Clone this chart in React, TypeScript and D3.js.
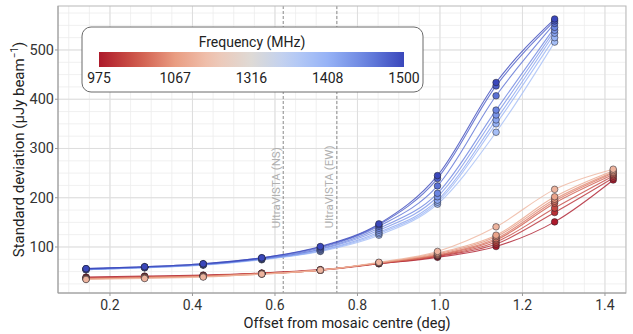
import React from "react";
import * as d3 from "d3";

// ---- data ----
const offsets = [0.142, 0.284, 0.426, 0.568, 0.71, 0.852, 0.994, 1.136, 1.278, 1.42];

// low-frequency group (dark red -> light salmon)
const redColourPos = [0.0, 0.045, 0.09, 0.135, 0.18, 0.225, 0.27, 0.32];
const redSeries = [
  [39, 41, 43, 47, 54, 66, 79, 101, 151, 236],
  [38, 40, 42, 47, 53, 66, 81, 106, 170, 240],
  [37, 39, 42, 46, 53, 67, 82, 110, 179, 244],
  [36, 39, 41, 46, 53, 67, 83, 114, 189, 247],
  [36, 38, 41, 46, 53, 67, 84, 117, 193, 250],
  [35, 38, 40, 45, 53, 68, 86, 121, 197, 252],
  [35, 37, 40, 45, 53, 68, 88, 124, 202, 255],
  [34, 36, 39, 45, 53, 69, 91, 141, 217, 258],
];

// high-frequency group (light blue -> dark blue), ends at 1.278 deg
const blueColourPos = [0.7, 0.743, 0.786, 0.829, 0.871, 0.914, 0.957, 1.0];
const blueSeries = [
  [54, 58, 63, 74, 91, 124, 187, 333, 516],
  [54, 58, 64, 75, 92, 127, 191, 350, 525],
  [54, 58, 64, 75, 93, 130, 195, 358, 534],
  [55, 59, 64, 76, 95, 134, 202, 368, 540],
  [55, 59, 65, 76, 96, 138, 209, 378, 546],
  [55, 59, 65, 77, 98, 142, 224, 407, 554],
  [56, 60, 66, 78, 100, 145, 239, 427, 559],
  [56, 60, 66, 78, 101, 147, 245, 434, 563],
];

const xTicks = [0.2, 0.4, 0.6, 0.8, 1.0, 1.2, 1.4];
const yTicks = [100, 200, 300, 400, 500];
const legendLabels = ["975", "1067", "1316", "1408", "1500"];
const ultraVista = [
  { x: 0.62, label: "UltraVISTA (NS)" },
  { x: 0.75, label: "UltraVISTA (EW)" },
];
const cmapStops = ["#ad1a2b", "#cf584a", "#e99d82", "#f0c6b4", "#dedad6", "#bccff5", "#96b2f6", "#6a84e0", "#3a47bb"];

// ---- layout ----
const W = 633;
const H = 334;
const L = 58, R = 626, T = 6, B = 293;
const FONT = "Roboto, 'Noto Sans', sans-serif";

export default function App() {
  const x = d3.scaleLinear().domain([0.074, 1.451]).range([L, R]);
  const y = d3.scaleLinear().domain([6.6, 589.3]).range([B, T]);
  const cmap = d3.piecewise(d3.interpolateRgb, cmapStops);

  const minorX = d3.range(0.1, 1.451, 0.05);
  const minorY = d3.range(25, 589, 25);

  const line = d3
    .line<[number, number]>()
    .x((d) => x(d[0]))
    .y((d) => y(d[1]))
    .curve(d3.curveMonotoneX);

  const groups = [
    { series: redSeries, pos: redColourPos },
    { series: blueSeries, pos: blueColourPos },
  ];

  const barX0 = 99, barX1 = 404, barY = 52, barH = 15;
  const gradStops = d3.range(0, 1.0001, 0.05);

  return (
    <div style={{ position: "absolute", left: 0, top: 0 }}>
      <svg width={W} height={H} style={{ display: "block", background: "#fff" }} fontFamily={FONT}>
        <defs>
          <linearGradient id="cbar" x1="0" x2="1" y1="0" y2="0">
            {gradStops.map((t) => (
              <stop key={t} offset={t} stopColor={cmap(t)} />
            ))}
          </linearGradient>
          <clipPath id="plotclip">
            <rect x={L} y={T} width={R - L} height={B - T} />
          </clipPath>
        </defs>

        {/* grid */}
        <rect x={L} y={T} width={R - L} height={B - T} fill="#fff" />
        {minorX.map((v, i) => (
          <line key={"mx" + i} x1={x(v)} x2={x(v)} y1={T} y2={B} stroke="#ececec" strokeWidth={0.8} />
        ))}
        {minorY.map((v, i) => (
          <line key={"my" + i} x1={L} x2={R} y1={y(v)} y2={y(v)} stroke="#ececec" strokeWidth={0.8} />
        ))}
        {xTicks.map((v) => (
          <line key={"gx" + v} x1={x(v)} x2={x(v)} y1={T} y2={B} stroke="#dedede" strokeWidth={1} />
        ))}
        {yTicks.map((v) => (
          <line key={"gy" + v} x1={L} x2={R} y1={y(v)} y2={y(v)} stroke="#dedede" strokeWidth={1} />
        ))}

        {/* UltraVISTA markers */}
        {ultraVista.map((u) => (
          <g key={u.label}>
            <line x1={x(u.x)} x2={x(u.x)} y1={T} y2={B} stroke="#8a8a8a" strokeWidth={1} strokeDasharray="3,2" />
            <text
              transform={`translate(${x(u.x) - 3.5},${y(138)}) rotate(-90)`}
              fontSize={11.5}
              fill="#b0b0b0"
              textAnchor="start"
            >
              {u.label}
            </text>
          </g>
        ))}

        {/* series */}
        <g clipPath="url(#plotclip)">
          {groups.map((g, gi) =>
            g.series.map((s, si) => {
              const pts: [number, number][] = s.map((v, k) => [offsets[k], v]);
              return (
                <path
                  key={`l${gi}-${si}`}
                  d={line(pts) || ""}
                  fill="none"
                  stroke={cmap(g.pos[si])}
                  strokeWidth={1.1}
                  strokeOpacity={0.8}
                />
              );
            })
          )}
          {groups.map((g, gi) =>
            g.series.map((s, si) =>
              s.map((v, k) => (
                <circle
                  key={`p${gi}-${si}-${k}`}
                  cx={x(offsets[k])}
                  cy={y(v)}
                  r={3.3}
                  fill={cmap(g.pos[si])}
                  stroke="rgba(30,30,40,0.65)"
                  strokeWidth={0.8}
                />
              ))
            )
          )}
        </g>

        {/* panel border */}
        <rect x={L} y={T} width={R - L} height={B - T} fill="none" stroke="#b8b8b8" strokeWidth={1} />
        <line x1={L} x2={R} y1={B} y2={B} stroke="#9a9a9a" strokeWidth={1} />
        <line x1={L} x2={L} y1={T} y2={B} stroke="#9a9a9a" strokeWidth={1} />

        {/* x axis */}
        {xTicks.map((v) => (
          <g key={"xt" + v}>
            <line x1={x(v)} x2={x(v)} y1={B} y2={B + 3} stroke="#9a9a9a" />
            <text x={x(v)} y={309.5} fontSize={14} fill="#333" textAnchor="middle">
              {v.toFixed(1)}
            </text>
          </g>
        ))}
        {/* y axis */}
        {yTicks.map((v) => (
          <g key={"yt" + v}>
            <line x1={L - 3} x2={L} y1={y(v)} y2={y(v)} stroke="#9a9a9a" />
            <text x={L - 4} y={y(v) + 5} fontSize={14.5} fill="#333" textAnchor="end">
              {v}
            </text>
          </g>
        ))}

        <text x={(L + R) / 2 + 5} y={327.5} fontSize={14.5} fill="#222" textAnchor="middle">
          Offset from mosaic centre (deg)
        </text>
        <text transform={`translate(24,${(T + B) / 2}) rotate(-90)`} fontSize={15} fill="#222" textAnchor="middle">
          <tspan>Standard deviation (µJy beam</tspan>
          <tspan dy={-6} fontSize={10}>−1</tspan>
          <tspan dy={6}>)</tspan>
        </text>

        {/* legend */}
        <rect x={82} y={27} width={341} height={65} rx={9} ry={9} fill="#fff" stroke="#6a6a6a" strokeWidth={1} />
        <text x={252} y={47} fontSize={14} fill="#222" textAnchor="middle">
          Frequency (MHz)
        </text>
        <rect x={barX0} y={barY} width={barX1 - barX0} height={barH} fill="url(#cbar)" />
        {legendLabels.map((lab, i) => (
          <text
            key={lab}
            x={barX0 + ((barX1 - barX0) * i) / (legendLabels.length - 1)}
            y={83}
            fontSize={14}
            fill="#222"
            textAnchor="middle"
          >
            {lab}
          </text>
        ))}
      </svg>
    </div>
  );
}
